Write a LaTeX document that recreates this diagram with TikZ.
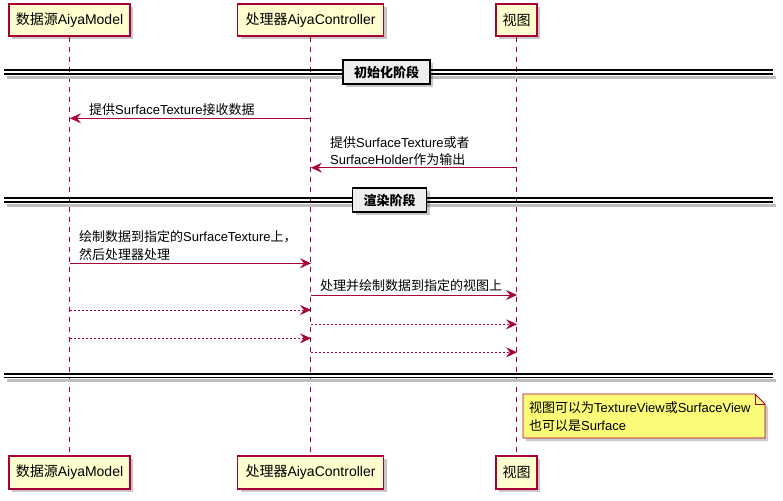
\documentclass[tikz,border=0pt]{standalone}
\usepackage{fontspec}
\setmainfont{Liberation Sans}
\newfontfamily\cjk{Noto Sans CJK SC}
\newcommand\zh[1]{{\cjk #1}}
\usetikzlibrary{arrows.meta,shadows}
\definecolor{pborder}{HTML}{A80036}
\definecolor{pfill}{HTML}{FEFECE}
\definecolor{nfill}{HTML}{FBFB77}
\definecolor{dfill}{HTML}{EEEEEE}
\begin{document}
\begin{tikzpicture}[x=1pt,y=-1pt,
  shd/.style={drop shadow={shadow xshift=3pt,shadow yshift=-3pt,fill=black,opacity=0.22}},
  part/.style={draw=pborder, fill=pfill, line width=1.1pt, inner sep=0pt, shd,
    font=\fontsize{14}{16}\selectfont},
  life/.style={draw=pborder, line width=0.9pt, dash pattern=on 5pt off 5pt},
  msg/.style={draw=pborder, line width=0.9pt, -{Stealth[length=11pt,width=10pt,inset=4pt]}},
  ret/.style={msg, dash pattern=on 2pt off 2pt},
  lbl/.style={anchor=base west, inner sep=0pt, font=\fontsize{13}{15}\selectfont},
  divline/.style={draw=black, line width=1.1pt},
  divshadow/.style={draw=black!25, line width=3pt},
  divbox/.style={draw=black, fill=dfill, line width=1.4pt, inner sep=0pt, shd,
    font=\fontsize{13}{15}\selectfont\bfseries},
  notebox/.style={draw=pborder, fill=nfill, line width=0.9pt}
]
\useasboundingbox (0,0) rectangle (783,500);

% participants
\node[part, minimum width=121pt, minimum height=32pt] (m1) at (69.5,20) {\zh{数据源}AiyaModel};
\node[part, minimum width=146pt, minimum height=32pt] (c1) at (310.5,20) {\zh{处理器}AiyaController};
\node[part, minimum width=41pt, minimum height=32pt] (v1) at (516.5,20) {\zh{视图}};
\node[part, minimum width=121pt, minimum height=33pt] (m2) at (69.5,472.5) {\zh{数据源}AiyaModel};
\node[part, minimum width=146pt, minimum height=33pt] (c2) at (310.5,472.5) {\zh{处理器}AiyaController};
\node[part, minimum width=41pt, minimum height=33pt] (v2) at (516.5,472.5) {\zh{视图}};

% lifelines
\draw[life] (m1.south) -- (m2.north);
\draw[life] (c1.south) -- (c2.north);
\draw[life] (v1.south) -- (v2.north);

% divider 1
\coordinate (d1l) at (4,70); \coordinate (d1r) at (773,70);
\coordinate (d1l2) at (4,74); \coordinate (d1r2) at (773,74);
\coordinate (d1s) at (7,77.5); \coordinate (d1s2) at (776,77.5);
\draw[divshadow] (d1s) -- (d1s2);
\draw[divline] (d1l) -- (d1r);
\draw[divline] (d1l2) -- (d1r2);
\node[divbox, minimum width=87pt, minimum height=24pt] (div1) at (386.5,72) {\zh{初始化阶段}};

% message 1
\coordinate (a1s) at (311,118.3); \coordinate (a1e) at (70,118.3);
\draw[msg] (a1s) -- (a1e);
\node[lbl] (t1) at (89,114.8) {\zh{提供}SurfaceTexture\zh{接收数据}};

% message 2
\coordinate (a2s) at (517,167.7); \coordinate (a2e) at (311,167.7);
\draw[msg] (a2s) -- (a2e);
\node[lbl] (t2a) at (330,147) {\zh{提供}SurfaceTexture\zh{或者}};
\node[lbl] (t2b) at (330,164.2) {SurfaceHolder\zh{作为输出}};

% divider 2
\coordinate (d2l) at (4,198); \coordinate (d2r) at (773,198);
\coordinate (d2l2) at (4,202); \coordinate (d2r2) at (773,202);
\coordinate (d2s) at (7,205.5); \coordinate (d2s2) at (776,205.5);
\draw[divshadow] (d2s) -- (d2s2);
\draw[divline] (d2l) -- (d2r);
\draw[divline] (d2l2) -- (d2r2);
\node[divbox, minimum width=74pt, minimum height=24pt] (div2) at (389.5,200) {\zh{渲染阶段}};

% message 3
\coordinate (a3s) at (70,263.3); \coordinate (a3e) at (311,263.3);
\draw[msg] (a3s) -- (a3e);
\node[lbl] (t3a) at (79,241.5) {\zh{绘制数据到指定的}SurfaceTexture\zh{上，}};
\node[lbl] (t3b) at (79,259.5) {\zh{然后处理器处理}};

% message 4
\coordinate (a4s) at (311,295); \coordinate (a4e) at (517,295);
\draw[msg] (a4s) -- (a4e);
\node[lbl] (t4) at (320,290.3) {\zh{处理并绘制数据到指定的视图上}};

% dashed messages
\coordinate (r1s) at (70,310); \coordinate (r1e) at (311,310);
\coordinate (r2s) at (311,324.3); \coordinate (r2e) at (517,324.3);
\coordinate (r3s) at (70,338.3); \coordinate (r3e) at (311,338.3);
\coordinate (r4s) at (311,352.3); \coordinate (r4e) at (517,352.3);
\draw[ret] (r1s) -- (r1e);
\draw[ret] (r2s) -- (r2e);
\draw[ret] (r3s) -- (r3e);
\draw[ret] (r4s) -- (r4e);

% divider 3
\coordinate (d3l) at (4,374); \coordinate (d3r) at (773,374);
\coordinate (d3l2) at (4,377.5); \coordinate (d3r2) at (773,377.5);
\coordinate (d3s) at (7,380.5); \coordinate (d3s2) at (776,380.5);
\draw[divshadow] (d3s) -- (d3s2);
\draw[divline] (d3l) -- (d3r);
\draw[divline] (d3l2) -- (d3r2);

% note
\fill[black, opacity=0.2] (526,397) -- (758,397) -- (768,407) -- (768,441) -- (526,441) -- cycle;
\draw[notebox] (523,394) -- (755,394) -- (765,404) -- (765,438) -- (523,438) -- cycle;
\draw[draw=pborder, line width=0.9pt] (755,394) -- (755,404) -- (765,404);
\node[lbl] (n1) at (529,412.3) {\zh{视图可以为}TextureView\zh{或}SurfaceView};
\node[lbl] (n2) at (529,430.5) {\zh{也可以是}Surface};
\end{tikzpicture}
\end{document}
